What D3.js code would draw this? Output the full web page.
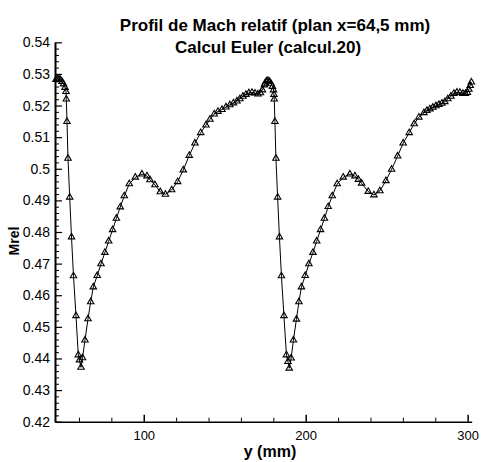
<!DOCTYPE html>
<html>
<head>
<meta charset="utf-8">
<script src="https://cdn.jsdelivr.net/npm/d3@7"></script>
<style>
  html, body { margin: 0; padding: 0; background: #fff; }
  svg { display: block; font-family: "Liberation Sans", Arial, Helvetica, sans-serif; }
</style>
</head>
<body>
<svg id="chart" width="481" height="462"></svg>
<script>
// Relative Mach number along the pitchwise coordinate y (mm), plane x = 64.5 mm
const yMm = [
  45.82, 46.74, 47.67, 48.60, 49.52, 50.45, 51.37, 51.99, 52.18, 52.61,
  53.22, 54.27, 55.39, 56.62, 58.16, 59.58, 60.32, 61.25, 62.18, 63.72,
  65.57, 67.24, 68.84, 71.25, 73.60, 76.00, 78.35, 80.76, 83.10, 85.51,
  87.98, 91.06, 94.77, 98.90, 101.99, 103.84, 106.93, 110.20, 113.41, 117.24,
  120.94, 124.40, 128.10, 131.62, 135.14, 138.41, 140.88, 143.53, 145.82, 148.29,
  150.76, 153.22, 155.39, 157.55, 159.40, 161.25, 163.10, 164.95, 166.81, 168.66,
  170.51, 172.05, 173.29, 174.52,
  174.83, 175.76, 176.68, 177.61, 178.53, 179.46, 180.08, 180.39, 180.57, 181.00,
  181.62, 182.67, 183.78, 185.02, 186.56, 188.10, 189.03, 189.83, 191.00, 192.42,
  194.27, 195.82, 197.36, 199.71, 201.99, 204.46, 206.81, 209.15, 211.56, 213.90,
  216.37, 219.46, 223.16, 227.30, 230.39, 232.55, 234.52, 238.60, 242.11, 245.82,
  249.52, 253.04, 256.74, 260.20, 263.90, 266.99, 269.89, 272.98, 274.83, 276.68,
  278.53, 280.39, 282.24, 284.09, 285.94, 287.79, 289.64, 291.50, 293.35, 295.20,
  297.05, 298.60, 299.83, 300.76, 301.56, 302.30
];
const machRel = [
  0.5282, 0.5284, 0.5284, 0.5281, 0.5276, 0.5268, 0.5257, 0.5244, 0.5220, 0.5149,
  0.5033, 0.4910, 0.4784, 0.4661, 0.4535, 0.4411, 0.4395, 0.4372, 0.4402, 0.4458,
  0.4525, 0.4579, 0.4626, 0.4662, 0.4699, 0.4735, 0.4771, 0.4807, 0.4843, 0.4879,
  0.4914, 0.4952, 0.4973, 0.4983, 0.4977, 0.4965, 0.4949, 0.4927, 0.4919, 0.4933,
  0.4959, 0.4996, 0.5042, 0.5081, 0.5114, 0.5138, 0.5156, 0.5173, 0.5181, 0.5187,
  0.5195, 0.5202, 0.5208, 0.5214, 0.5221, 0.5229, 0.5235, 0.5240, 0.5241, 0.5239,
  0.5236, 0.5240, 0.5249, 0.5265,
  0.5270, 0.5277, 0.5279, 0.5276, 0.5270, 0.5260, 0.5249, 0.5235, 0.5220, 0.5149,
  0.5033, 0.4910, 0.4784, 0.4661, 0.4535, 0.4411, 0.4390, 0.4369, 0.4401, 0.4458,
  0.4524, 0.4579, 0.4626, 0.4662, 0.4699, 0.4735, 0.4771, 0.4807, 0.4843, 0.4880,
  0.4914, 0.4952, 0.4973, 0.4983, 0.4977, 0.4966, 0.4954, 0.4928, 0.4917, 0.4930,
  0.4962, 0.4998, 0.5040, 0.5081, 0.5114, 0.5142, 0.5163, 0.5177, 0.5184, 0.5189,
  0.5194, 0.5199, 0.5203, 0.5207, 0.5212, 0.5221, 0.5229, 0.5238, 0.5242, 0.5241,
  0.5238, 0.5238, 0.5241, 0.5251, 0.5263, 0.5274
];

const xMajorTicks = [100, 200, 300];
const xMinorTicks = [60, 80, 120, 140, 160, 180, 220, 240, 260, 280];
const yMajorTicks = [0.42, 0.43, 0.44, 0.45, 0.46, 0.47, 0.48, 0.49, 0.50, 0.51, 0.52, 0.53, 0.54];
const yTickLabels = ["0.42", "0.43", "0.44", "0.45", "0.46", "0.47", "0.48", "0.49", "0.5", "0.51", "0.52", "0.53", "0.54"];
const yMinorTicks = [];
for (let i = 0; i <= 60; i++) { if (i % 5 !== 0) yMinorTicks.push(0.42 + i * 0.002); }

const titleLines = ["Profil de Mach relatif (plan x=64,5 mm)", "Calcul Euler (calcul.20)"];
const xTitle = "y (mm)";
const yTitle = "Mrel";

const svg = d3.select("#chart");

const x = d3.scaleLinear().domain([45.2, 302.5]).range([55, 471.7]);
const y = d3.scaleLinear().domain([0.42, 0.54]).range([421.7, 42.3]);

// Titles
svg.append("text").attr("x", 275).attr("y", 31).attr("text-anchor", "middle")
  .attr("font-size", 17).attr("font-weight", "bold").text(titleLines[0]);
svg.append("text").attr("x", 268).attr("y", 53).attr("text-anchor", "middle")
  .attr("font-size", 17).attr("font-weight", "bold").text(titleLines[1]);

// Y axis: inward ticks
const yAxis = svg.append("g").attr("transform", `translate(${x.range()[0]},0)`)
  .call(d3.axisLeft(y).tickValues(yMajorTicks)
    .tickFormat((d, i) => yTickLabels[i]).tickSizeInner(-7).tickSizeOuter(0).tickPadding(5));
yAxis.selectAll("text").attr("font-size", 14).attr("fill", "#000").attr("font-family", null);
yAxis.selectAll(".tick line").attr("stroke-width", 1.2);
yAxis.select(".domain").attr("stroke-width", 2);

svg.append("g").attr("transform", `translate(${x.range()[0]},0)`)
  .call(d3.axisLeft(y).tickValues(yMinorTicks).tickFormat("").tickSizeInner(-4).tickSizeOuter(0))
  .call(g => g.select(".domain").remove());

// X axis: inward ticks
const xAxis = svg.append("g").attr("transform", `translate(0,${y.range()[0]})`)
  .call(d3.axisBottom(x).tickValues(xMajorTicks).tickFormat(d3.format("d"))
    .tickSizeInner(-7).tickSizeOuter(0).tickPadding(9));
xAxis.selectAll("text").attr("font-size", 13).attr("fill", "#000").attr("font-family", null);
xAxis.selectAll(".tick line").attr("stroke-width", 1.5);
xAxis.select(".domain").attr("stroke-width", 1.6);

svg.append("g").attr("transform", `translate(0,${y.range()[0]})`)
  .call(d3.axisBottom(x).tickValues(xMinorTicks).tickFormat("").tickSizeInner(-4).tickSizeOuter(0))
  .call(g => g.select(".domain").remove());

// Axis titles
svg.append("text").attr("x", 270).attr("y", 457).attr("text-anchor", "middle")
  .attr("font-size", 16).attr("font-weight", "bold").text(xTitle);
svg.append("text").attr("transform", "translate(19,241) rotate(-90)").attr("text-anchor", "middle")
  .attr("font-size", 14).attr("font-weight", "bold").text(yTitle);

// Profile line with triangle markers
const pts = yMm.map((v, i) => [v, machRel[i]]);
svg.append("path").datum(pts)
  .attr("fill", "none").attr("stroke", "#000").attr("stroke-width", 1)
  .attr("d", d3.line().x(d => x(d[0])).y(d => y(d[1])));

const tri = d3.symbol().type(d3.symbolTriangle).size(18);
svg.append("g").selectAll("path").data(pts).join("path")
  .attr("transform", d => `translate(${x(d[0])},${y(d[1])})`)
  .attr("d", tri)
  .attr("fill", "none").attr("stroke", "#000").attr("stroke-width", 1.1);
</script>
</body>
</html>
